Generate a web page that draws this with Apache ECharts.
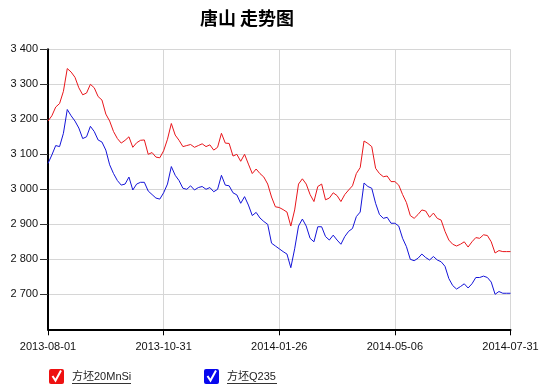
<!DOCTYPE html>
<html>
<head>
<meta charset="utf-8">
<script src="https://cdn.jsdelivr.net/npm/echarts@6/dist/echarts.min.js"></script>
<style>html,body{margin:0;padding:0;background:#fff;}#c{width:543px;height:386px;}</style>
</head>
<body>
<div id="c"></div>
<script>
var title = '唐山 走势图';
var seriesNames = ['方坯20MnSi', '方坯Q235'];
var tickLabels = ['2013-08-01', '2013-10-31', '2014-01-26', '2014-05-06', '2014-07-31'];
var yTicks = [2600, 3400, 100];
var red = [
3195,3210,3235,3245,3280,3345,3335,3320,3290,3270,
3275,3300,3290,3265,3255,3215,3195,3165,3145,3132,
3140,3150,3120,3133,3140,3141,3100,3105,3092,3090,
3110,3143,3188,3155,3140,3122,3125,3128,3120,3125,
3130,3122,3127,3112,3120,3160,3132,3131,3095,3100,
3080,3100,3072,3045,3058,3045,3035,3015,2978,2950,
2948,2942,2935,2895,2941,3015,3030,3015,2985,2965,
3008,3015,2970,2975,2990,2982,2965,2985,2998,3010,
3045,3062,3138,3131,3122,3060,3045,3036,3038,3022,
3022,3012,2985,2962,2925,2917,2928,2941,2938,2920,
2932,2917,2912,2880,2855,2843,2838,2843,2850,2835,
2850,2862,2860,2870,2868,2850,2818,2825,2822,2822,
2822];
var blue = [
3074,3098,3125,3122,3160,3228,3210,3195,3175,3145,
3150,3180,3165,3141,3135,3112,3070,3045,3025,3012,
3015,3035,2998,3015,3020,3020,2995,2985,2975,2972,
2990,3015,3065,3040,3025,3003,3000,3010,2998,3005,
3008,3000,3005,2993,3000,3040,3012,3010,2990,2984,
2960,2979,2955,2925,2934,2918,2908,2900,2846,2838,
2830,2822,2815,2776,2830,2895,2915,2895,2860,2850,
2893,2893,2865,2855,2869,2855,2843,2865,2880,2888,
2922,2935,3018,3008,3003,2960,2928,2917,2920,2903,
2903,2895,2860,2836,2800,2796,2803,2815,2805,2798,
2808,2798,2793,2780,2745,2725,2715,2722,2730,2718,
2730,2748,2748,2752,2748,2735,2700,2708,2703,2703,
2703];

var lastIdx = red.length - 1;
var xStep = lastIdx / (tickLabels.length - 1);
var redColor = '#e8161b', blueColor = '#1414d8';
var boxRed = '#ee1111', boxBlue = '#0808ee';

function fmtY(v){ return String(v).replace(/\B(?=(\d{3})+(?!\d))/g, ' '); }

var chart = echarts.init(document.getElementById('c'));
var legendBase = {
  top: 369, padding: 0, itemWidth: 15, itemHeight: 15, itemGap: 0,
  icon: 'path://M2,0 L13,0 Q15,0 15,2 L15,13 Q15,15 13,15 L2,15 Q0,15 0,13 L0,2 Q0,0 2,0 Z',
  textStyle: { fontFamily: 'Liberation Sans, Arial, Noto Sans CJK SC, sans-serif', fontSize: 11, color: '#222', padding: [2,0,0,3] },
  selectedMode: false
};
chart.setOption({
  animation: false,
  title: { text: title, left: 200, top: 9, padding: 0,
    textStyle: { fontFamily: 'Noto Sans CJK SC', fontWeight: 'bold', fontSize: 18, color: '#000' } },
  legend: [
    Object.assign({}, legendBase, { left: 49, data: [{ name: seriesNames[0], itemStyle: { color: boxRed } }] }),
    Object.assign({}, legendBase, { left: 204, data: [{ name: seriesNames[1], itemStyle: { color: boxBlue } }] })
  ],
  grid: { left: 48, right: 32.5, top: 49.3, bottom: 56.7, containLabel: false },
  xAxis: {
    type: 'value', min: 0, max: lastIdx, interval: xStep,
    axisLine: { show: true, lineStyle: { color: '#000', width: 2 } },
    axisTick: { show: true, length: 6, lineStyle: { color: '#000', width: 1 } },
    axisLabel: { margin: 12, fontSize: 11, color: '#111', fontFamily: 'Liberation Sans, Arial, sans-serif',
      formatter: function(v){ return tickLabels[Math.round(v / xStep)] || ''; } },
    splitLine: { show: true, lineStyle: { color: '#d6d6d6', width: 1 } }
  },
  yAxis: {
    type: 'value', min: yTicks[0], max: yTicks[1], interval: yTicks[2],
    axisLine: { show: true, lineStyle: { color: '#000', width: 2 } },
    axisTick: { show: true, length: 8, lineStyle: { color: '#333', width: 1 } },
    axisLabel: { margin: 10, fontSize: 11, color: '#111', showMinLabel: false,
      fontFamily: 'Liberation Sans, Arial, sans-serif', formatter: fmtY },
    splitLine: { show: true, lineStyle: { color: '#d6d6d6', width: 1 } }
  },
  series: [
    { name: seriesNames[0], type: 'line', showSymbol: false, symbol: 'none',
      data: red.map(function(v, i){ return [i, v]; }),
      lineStyle: { color: redColor, width: 1 }, itemStyle: { color: boxRed } },
    { name: seriesNames[1], type: 'line', showSymbol: false, symbol: 'none',
      data: blue.map(function(v, i){ return [i, v]; }),
      lineStyle: { color: blueColor, width: 1 }, itemStyle: { color: boxBlue } }
  ],
  graphic: [
    { type: 'polyline', z: 100, shape: { points: [[52.5,376],[55.5,380.5],[61,370.5]] },
      style: { stroke: '#fff', lineWidth: 2, fill: null } },
    { type: 'polyline', z: 100, shape: { points: [[207.5,376],[210.5,380.5],[216,370.5]] },
      style: { stroke: '#fff', lineWidth: 2, fill: null } },
    { type: 'line', z: 100, shape: { x1: 72, y1: 383.5, x2: 131, y2: 383.5 }, style: { stroke: '#333', lineWidth: 1 } },
    { type: 'line', z: 100, shape: { x1: 227, y1: 383.5, x2: 277, y2: 383.5 }, style: { stroke: '#333', lineWidth: 1 } }
  ]
});
</script>
</body>
</html>
